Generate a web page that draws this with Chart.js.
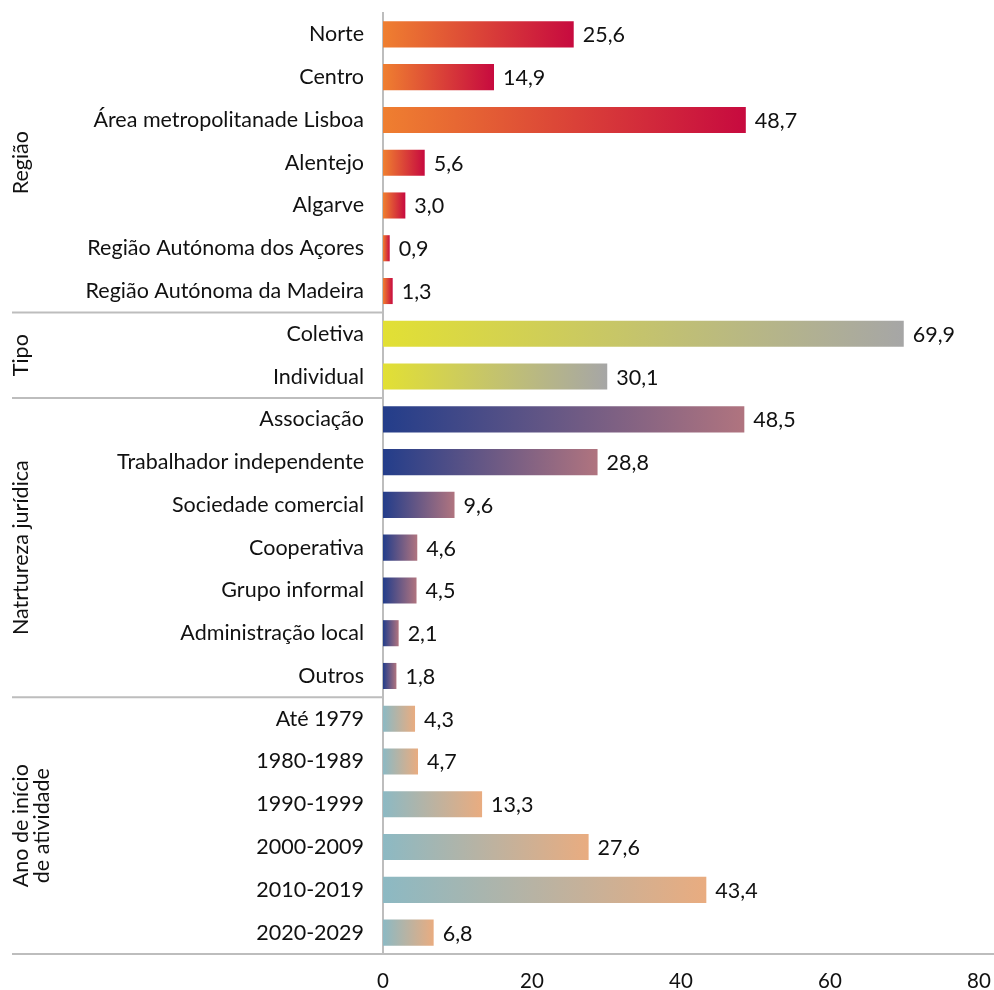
<!DOCTYPE html>
<html>
<head>
<meta charset="utf-8">
<script src="https://cdn.jsdelivr.net/npm/chart.js@4/dist/chart.umd.min.js"></script>
<style>
  html, body { margin: 0; padding: 0; background: #fff; }
  #wrap { width: 994px; height: 990px; position: relative; }
</style>
</head>
<body>
<div id="wrap"><canvas id="c" width="994" height="990"></canvas></div>
<script>
// ---- Data ----
const groupNames = ["Região", "Tipo", "Natrtureza jurídica", ["Ano de início", "de atividade"]];

const regiaoLabels = ["Norte", "Centro", "Área metropolitanade Lisboa", "Alentejo", "Algarve", "Região Autónoma dos Açores", "Região Autónoma da Madeira"];
const regiaoValues = [25.6, 14.9, 48.7, 5.6, 3.0, 0.9, 1.3];

const tipoLabels = ["Coletiva", "Individual"];
const tipoValues = [69.9, 30.1];

const naturezaLabels = ["Associação", "Trabalhador independente", "Sociedade comercial", "Cooperativa", "Grupo informal", "Administração local", "Outros"];
const naturezaValues = [48.5, 28.8, 9.6, 4.6, 4.5, 2.1, 1.8];

const anoLabels = ["Até 1979", "1980-1989", "1990-1999", "2000-2009", "2010-2019", "2020-2029"];
const anoValues = [4.3, 4.7, 13.3, 27.6, 43.4, 6.8];

const xTicks = [0, 20, 40, 60, 80];

// ---- Build ----
const groupLabelLists = [regiaoLabels, tipoLabels, naturezaLabels, anoLabels];
const groupValueLists = [regiaoValues, tipoValues, naturezaValues, anoValues];
const groupGradients = [
  ["#EF7F30", "#C70A3F"],
  ["#E2E034", "#A6A6A6"],
  ["#233D8A", "#B0747F"],
  ["#8CB9C3", "#E9AC80"]
];

const labels = [].concat(...groupLabelLists);
const values = [].concat(...groupValueLists);
const groupOf = [];
const groupRanges = [];
let idx = 0;
groupLabelLists.forEach((g, gi) => {
  groupRanges.push([idx, idx + g.length - 1]);
  g.forEach(() => { groupOf.push(gi); idx++; });
});

const FONT = "Lato";
const FS = 21.5;
const fmt = v => v.toFixed(1).replace('.', ',');

const decorPlugin = {
  id: 'decor',
  afterDatasetsDraw(chart) {
    const ctx = chart.ctx;
    const meta = chart.getDatasetMeta(0);
    ctx.save();
    ctx.fillStyle = "#111";
    ctx.font = FS + "px " + FONT;
    ctx.textAlign = "left";
    ctx.textBaseline = "middle";
    meta.data.forEach((bar, i) => {
      ctx.fillText(fmt(values[i]), bar.x + 9, bar.y + 1);
    });
    ctx.restore();
  },
  afterDraw(chart) {
    const ctx = chart.ctx;
    const y = chart.scales.y;
    const area = chart.chartArea;
    const step = y.getPixelForValue(1) - y.getPixelForValue(0);
    ctx.save();
    ctx.strokeStyle = "#BDBDBD";
    ctx.lineWidth = 2;
    groupRanges.forEach((r, gi) => {
      const yb = y.getPixelForValue(r[1]) + step / 2;
      ctx.beginPath();
      ctx.moveTo(12, yb);
      ctx.lineTo(gi === groupRanges.length - 1 ? chart.width : area.left, yb);
      ctx.stroke();
    });
    ctx.fillStyle = "#111";
    ctx.font = FS + "px " + FONT;
    ctx.textAlign = "center";
    ctx.textBaseline = "middle";
    groupRanges.forEach((r, gi) => {
      const yc = (y.getPixelForValue(r[0]) + y.getPixelForValue(r[1])) / 2;
      const name = groupNames[gi];
      const lines = Array.isArray(name) ? name : [name];
      lines.forEach((ln, li) => {
        ctx.save();
        ctx.translate(21 + li * 21, yc);
        ctx.rotate(-Math.PI / 2);
        ctx.fillText(ln, 0, 0);
        ctx.restore();
      });
    });
    ctx.restore();
  }
};

new Chart(document.getElementById('c'), {
  type: 'bar',
  data: {
    labels: labels,
    datasets: [{
      data: values,
      barPercentage: 0.61,
      categoryPercentage: 1.0,
      backgroundColor: (c) => {
        const gi = groupOf[c.dataIndex] || 0;
        const cols = groupGradients[gi];
        const chart = c.chart;
        if (!chart.chartArea || c.raw === undefined) return cols[0];
        const xs = chart.scales.x;
        const x0 = xs.getPixelForValue(0);
        const x1 = xs.getPixelForValue(c.raw);
        if (!isFinite(x0) || !isFinite(x1) || x1 - x0 < 0.5) return cols[0];
        const g = chart.ctx.createLinearGradient(x0, 0, x1, 0);
        g.addColorStop(0, cols[0]);
        g.addColorStop(1, cols[1]);
        return g;
      }
    }]
  },
  options: {
    indexAxis: 'y',
    responsive: false,
    animation: false,
    devicePixelRatio: 1,
    layout: { padding: { top: 13, right: 15, left: 0, bottom: 0 } },
    plugins: { legend: { display: false }, tooltip: { enabled: false } },
    scales: {
      x: {
        min: 0, max: 80,
        afterBuildTicks: (s) => { s.ticks = xTicks.map(v => ({ value: v })); },
        grid: { display: false, drawTicks: false },
        border: { display: false },
        ticks: { color: "#111", font: { family: FONT, size: 20.5 }, padding: 15, maxRotation: 0 },
        afterFit: (s) => { s.height = 36; s.paddingLeft = 0; s.paddingRight = 0; }
      },
      y: {
        grid: { display: false, drawTicks: false },
        border: { display: true, color: "#BDBDBD", width: 2 },
        ticks: { color: "#111", font: { family: FONT, size: FS }, padding: 19, autoSkip: false },
        afterFit: (s) => { s.width = 383; s.paddingTop = 0; s.paddingBottom = 0; }
      }
    }
  },
  plugins: [decorPlugin]
});
</script>
</body>
</html>
